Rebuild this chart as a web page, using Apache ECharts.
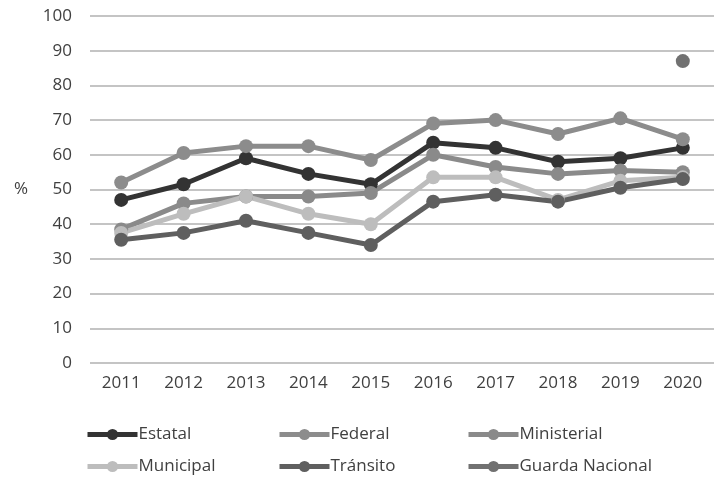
<!DOCTYPE html>
<html>
<head>
<meta charset="utf-8">
<script src="https://cdn.jsdelivr.net/npm/echarts@6/dist/echarts.min.js"></script>
<style>
  html, body { margin: 0; padding: 0; background: #fff; }
</style>
</head>
<body>
<div id="chart" style="width:714px;height:482px;"></div>
<script>
let years = ['2011', '2012', '2013', '2014', '2015', '2016', '2017', '2018', '2019', '2020'];
let estatal = [47, 51.5, 59, 54.5, 51.5, 63.5, 62, 58, 59, 62];
let federal = [52, 60.5, 62.5, 62.5, 58.5, 69, 70, 66, 70.5, 64.5];
let ministerial = [38.5, 46, 48, 48, 49, 60, 56.5, 54.5, 55.5, 55];
let municipal = [37.5, 43, 48, 43, 40, 53.5, 53.5, 47, 52.5, 53.5];
let transito = [35.5, 37.5, 41, 37.5, 34, 46.5, 48.5, 46.5, 50.5, 53];
let guarda = [null, null, null, null, null, null, null, null, null, 87];

let names = ['Estatal', 'Federal', 'Ministerial', 'Municipal', 'Tránsito', 'Guarda Nacional'];
let colors = ['#333333', '#8c8c8c', '#8a8a8a', '#bdbdbd', '#5f5f5f', '#717171'];
let values = [estatal, federal, ministerial, municipal, transito, guarda];

let font = 'Open Sans';
let chart = echarts.init(document.getElementById('chart'));

function legendCol(left, items) {
  return {
    orient: 'vertical',
    left: left,
    top: 421,
    itemWidth: 50,
    itemHeight: 14,
    itemGap: 15,
    data: items,
    lineStyle: { width: 5 },
    textStyle: { fontFamily: font, fontSize: 17, color: '#404040', padding: [0, 0, 0, -4] }
  };
}

let option = {
  animation: false,
  color: colors,
  grid: { left: 90, top: 16, width: 628, bottom: 119 },
  legend: [
    legendCol(80, ['Estatal', 'Municipal']),
    legendCol(272, ['Federal', 'Tránsito']),
    legendCol(461, ['Ministerial', 'Guarda Nacional'])
  ],
  xAxis: {
    type: 'category',
    data: years,
    axisLine: { show: false },
    axisTick: { show: false },
    axisLabel: { fontFamily: font, fontSize: 17, color: '#404040', margin: 12 }
  },
  yAxis: {
    type: 'value',
    min: 0,
    max: 100,
    interval: 10,
    name: '%',
    nameLocation: 'middle',
    nameRotate: 0,
    nameGap: 62,
    nameTextStyle: { fontFamily: font, fontSize: 17, color: '#404040' },
    axisLine: { show: false },
    axisTick: { show: false },
    axisLabel: { fontFamily: font, fontSize: 17, color: '#404040', margin: 18 },
    splitLine: { lineStyle: { color: '#c4c4c4', width: 2 } }
  },
  series: names.map(function (n, i) {
    return {
      name: n,
      type: 'line',
      data: values[i],
      symbol: 'circle',
      symbolSize: 14,
      lineStyle: { width: 5 },
      itemStyle: { color: colors[i] }
    };
  })
};

chart.setOption(option);
</script>
</body>
</html>
